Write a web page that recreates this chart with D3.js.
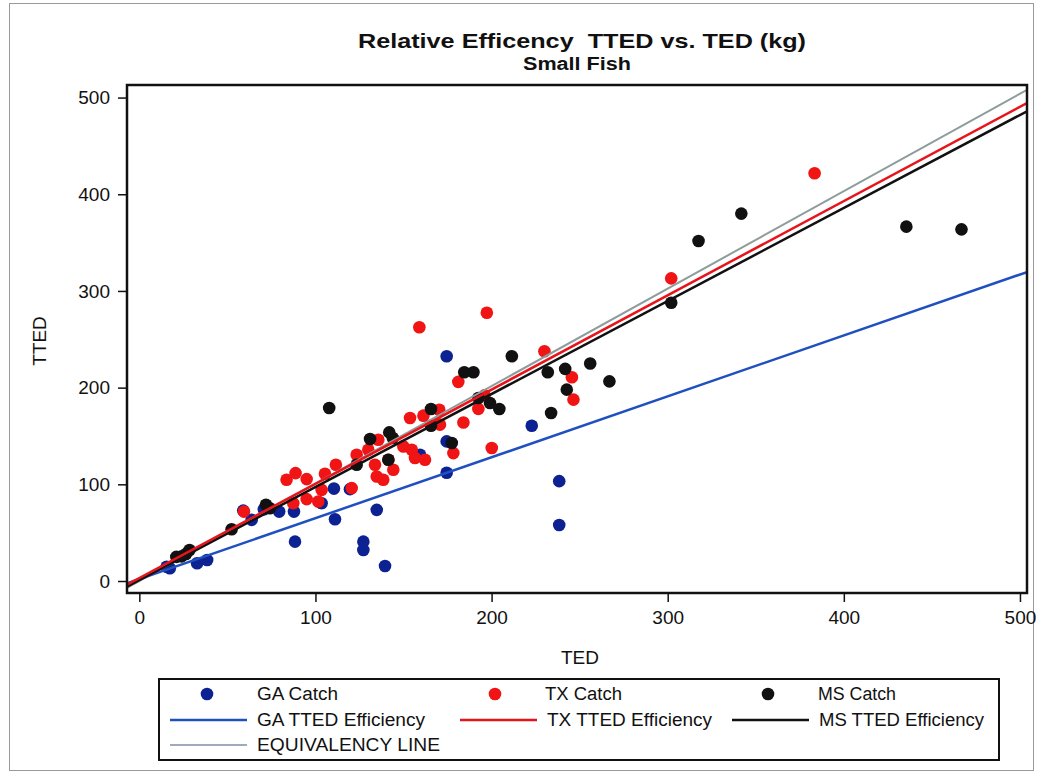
<!DOCTYPE html>
<html><head><meta charset="utf-8">
<script src="https://cdn.jsdelivr.net/npm/d3@7"></script>
<style>
body{margin:0;background:#fff;}
text{font-family:"Liberation Sans",Arial,sans-serif;fill:#111;white-space:pre;}
</style></head>
<body><svg id="c" width="1039" height="776"></svg>
<script>
// ---- data ----
const gaTED  = [15.5,17.3,32.8,38.5,59,63.8,70.7,79.4,87.8,88.4,103.5,110.5,119.6,111.1,134.8,127.2,127.2,139.5,159.4,174.5,174.5,174.5,222.8,238.4,238.4];
const gaTTED = [14.8,13.2,18.3,21.8,72.8,63.2,74.3,71.8,71.8,40.7,80.5,95.6,95,63.9,73.6,40.7,32.1,15.5,130.6,232.4,144.4,111.9,160.6,103.3,58];
const txTED  = [59.4,83.6,88.7,95,87.4,95,101.6,103.5,105.4,111.6,120.6,123.4,130,135.7,133.8,134.8,138.5,144.2,149.9,154.7,156.5,162.2,153.7,161.3,170.3,170.7,184,192.5,196,178.3,200.1,159,197.3,181.1,230,245.6,246.5,302,383.4,141.4];
const txTTED = [71.8,104.7,111.6,105.4,80.5,84.7,82.2,94.3,110.9,120.2,96.1,130.6,135.8,146.1,120.2,108.1,104.7,115,139.2,135.8,127.2,125.4,168.6,171,177.2,161.7,164,178,192,132.3,137.5,262.5,277.4,206,237.6,210.7,187.6,313,421.8,125.4];
const msTED  = [21,24,26.5,28.5,52.4,71.9,74.1,107.8,131,141.9,143.9,123.4,141.4,165.6,165.6,177.4,184.5,189.7,192.5,199.1,204.4,211.5,231.9,241.8,256,266.9,242.7,233.8,302,317.5,341.8,435.5,466.8];
const msTTED = [25,25.5,28,32,53.6,78.8,75.3,179,146.8,153.7,147.9,120.2,125.4,177.9,160.6,142.7,215.9,215.9,189.3,184.1,177.9,232.4,215.9,219.4,224.9,206.5,197.9,173.8,287.8,351.6,380,366.5,363.7];
// fitted lines: [slope, intercept]
const gaFit = [0.63, 2];
const txFit = [0.975, 3];
const msFit = [0.962, 1];
const eqFit = [1.008, 0];
const xTicks = [0,100,200,300,400,500];
const yTicks = [0,100,200,300,400,500];
const xDomain = [-7, 504];
const yDomain = [-12.4, 513];

const svg = d3.select("#c");
const L=127, R=1027, T=85, B=593;
const x = d3.scaleLinear().domain(xDomain).range([L,R]);
const y = d3.scaleLinear().domain(yDomain).range([B,T]);

// outer border
svg.append("rect").attr("x",9.5).attr("y",3.5).attr("width",1024).attr("height",767)
  .attr("fill","none").attr("stroke","#9a9a9a").attr("stroke-width",1);

// titles
svg.append("text").attr("x",358).attr("y",48)
  .attr("font-size",21).attr("font-weight","bold")
  .attr("textLength",448).attr("lengthAdjust","spacingAndGlyphs")
  .text("Relative Efficency  TTED vs. TED (kg)");
svg.append("text").attr("x",523).attr("y",70)
  .attr("font-size",18).attr("font-weight","bold")
  .attr("textLength",108).attr("lengthAdjust","spacingAndGlyphs")
  .text("Small Fish");

svg.append("defs").append("clipPath").attr("id","clip").append("rect")
  .attr("x",L).attr("y",T).attr("width",R-L).attr("height",B-T);

const col = {ga:"#0c2192", tx:"#f01414", ms:"#111111"};
const g = svg.append("g").attr("clip-path","url(#clip)");
function dots(xs, ys, c){
  g.selectAll(null).data(xs.map((d,i)=>[d,ys[i]])).enter().append("circle")
   .attr("cx",d=>x(d[0])).attr("cy",d=>y(d[1])).attr("r",6.3).attr("fill",c);
}
dots(gaTED,gaTTED,col.ga);
dots(txTED,txTTED,col.tx);
dots(msTED,msTTED,col.ms);

function fitLine(f, c, w){
  const pts = xDomain.map(v=>[v, f[0]*v+f[1]]);
  g.append("line").attr("x1",x(pts[0][0])).attr("y1",y(pts[0][1]))
   .attr("x2",x(pts[1][0])).attr("y2",y(pts[1][1]))
   .attr("stroke",c).attr("stroke-width",w);
}
fitLine(eqFit,"#8e9c9c",2);
fitLine(gaFit,"#2050c0",2.5);
fitLine(msFit,"#111",2.5);
fitLine(txFit,"#e8141c",2.5);

// frame
svg.append("rect").attr("x",L).attr("y",T).attr("width",R-L).attr("height",B-T)
  .attr("fill","none").attr("stroke","#111").attr("stroke-width",2.5);

// axes
const xa = svg.append("g").attr("transform",`translate(0,${B})`)
  .call(d3.axisBottom(x).tickValues(xTicks).tickSize(9).tickPadding(9));
const ya = svg.append("g").attr("transform",`translate(${L},0)`)
  .call(d3.axisLeft(y).tickValues(yTicks).tickSize(9).tickPadding(8));
[xa,ya].forEach(a=>{
  a.select(".domain").remove();
  a.selectAll("line").attr("stroke","#111").attr("stroke-width",1.5);
  a.selectAll("text").attr("font-size",19).attr("fill","#111")
   .style("font-family","Liberation Sans, Arial, sans-serif");
});

svg.append("text").attr("x",580).attr("y",664).attr("text-anchor","middle")
  .attr("font-size",19).text("TED");
svg.append("text").attr("transform","translate(46,341) rotate(-90)").attr("text-anchor","middle")
  .attr("font-size",19).text("TTED");

// legend
const lg = svg.append("g");
lg.append("rect").attr("x",159).attr("y",679).attr("width",840).attr("height",81)
  .attr("fill","#fff").attr("stroke","#111").attr("stroke-width",2);
const catItems = [["GA Catch",col.ga,207,81],["TX Catch",col.tx,495,77],["MS Catch",col.ms,768,78]];
catItems.forEach(d=>{
  lg.append("circle").attr("cx",d[2]).attr("cy",694).attr("r",6.3).attr("fill",d[1]);
  lg.append("text").attr("x",d[2]+50).attr("y",700).attr("font-size",18)
    .attr("textLength",d[3]).attr("lengthAdjust","spacingAndGlyphs").text(d[0]);
});
const lineItems = [["GA TTED Efficiency","#2050c0",170,720,168],["TX TTED Efficiency","#e8141c",460,720,165],["MS TTED Efficiency","#111",732,720,165],["EQUIVALENCY LINE","#7f8ea6",170,745,183]];
lineItems.forEach(d=>{
  lg.append("line").attr("x1",d[2]).attr("x2",d[2]+77).attr("y1",d[3]).attr("y2",d[3])
    .attr("stroke",d[1]).attr("stroke-width",d[0].startsWith("EQ")?1.5:2.5);
  lg.append("text").attr("x",d[2]+87).attr("y",d[3]+6).attr("font-size",18)
    .attr("textLength",d[4]).attr("lengthAdjust","spacingAndGlyphs").text(d[0]);
});
</script></body></html>
